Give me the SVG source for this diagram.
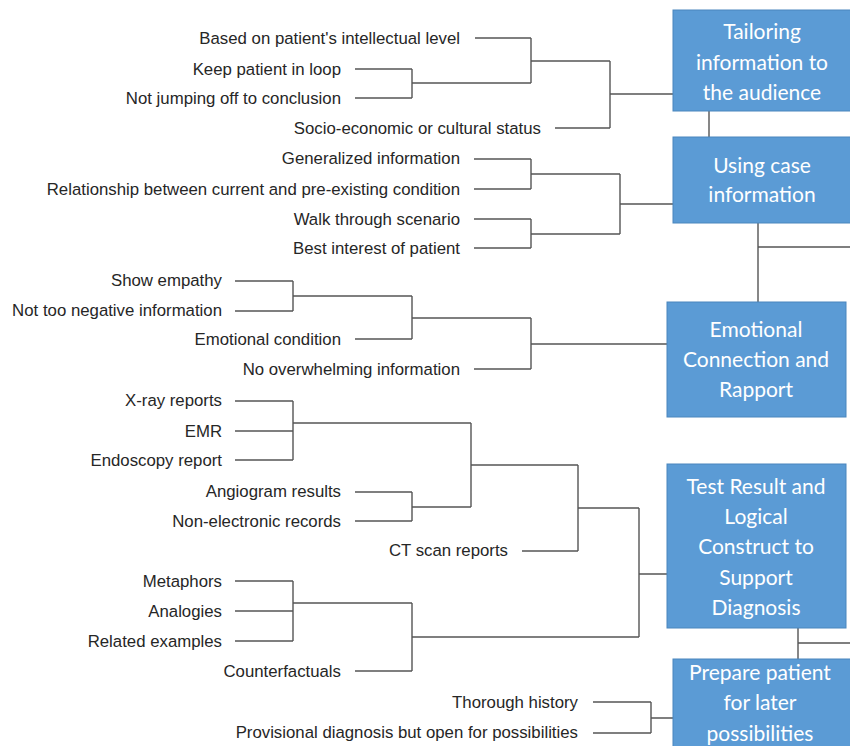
<svg xmlns="http://www.w3.org/2000/svg" width="850" height="746" viewBox="0 0 850 746">
<style>
.bg{fill:#ffffff}
.lbl{font-family:"Liberation Sans",Arial,sans-serif;font-size:16.8px;fill:#262626;text-anchor:end}
.box{fill:#5b9bd5;stroke:#4a86bd;stroke-width:1}
.bt{font-family:Lato,"Open Sans",sans-serif;font-size:21px;fill:#ffffff;text-anchor:middle}
.ln{fill:none;stroke:#555555;stroke-width:1.4}
</style>
<rect class="bg" x="0" y="0" width="850" height="746"/>
<g id="connectors" class="ln">
<path d="M475,38 H531 M355,69 H412 M355,98 H412 M412,69 V98 M412,83 H531 M531,38 V83 M531,61 H610 M555,128 H610 M610,61 V128 M610,94 H673"/>
<path d="M474,159 H531 M474,189 H531 M531,159 V189 M531,174 H620 M474,219 H531 M474,248 H531 M531,219 V248 M531,234 H620 M620,174 V234 M620,204 H673"/>
<path d="M235,281 H293 M235,311 H293 M293,281 V311 M293,296 H412 M355,339 H412 M412,296 V339 M412,318 H531 M474,369 H531 M531,318 V369 M531,344 H667"/>
<path d="M235,401 H293 M235,431 H293 M235,460 H293 M293,401 V460 M293,423 H471 M355,492 H412 M355,521 H412 M412,492 V521 M412,507 H471 M471,423 V507 M471,465 H578 M522,551 H578 M578,465 V551 M578,508 H639 M639,508 V637 M639,574 H667"/>
<path d="M235,581 H293 M235,611 H293 M235,641 H293 M293,581 V641 M293,603 H412 M355,671 H412 M412,603 V671 M412,637 H639"/>
<path d="M593,702 H651 M593,733 H651 M651,702 V733 M651,718 H673"/>
<path d="M709,111 V137 M758,223 V302 M758,247 H850 M798,628 V659 M798,643 H850"/>
</g>
<g id="labels">
<text class="lbl" x="460" y="44">Based on patient's intellectual level</text>
<text class="lbl" x="341" y="75">Keep patient in loop</text>
<text class="lbl" x="341" y="104">Not jumping off to conclusion</text>
<text class="lbl" x="541" y="134">Socio-economic or cultural status</text>
<text class="lbl" x="460" y="164">Generalized information</text>
<text class="lbl" x="460" y="195">Relationship between current and pre-existing condition</text>
<text class="lbl" x="460" y="225">Walk through scenario</text>
<text class="lbl" x="460" y="254">Best interest of patient</text>
<text class="lbl" x="222" y="286">Show empathy</text>
<text class="lbl" x="222" y="316">Not too negative information</text>
<text class="lbl" x="341" y="345">Emotional condition</text>
<text class="lbl" x="460" y="375">No overwhelming information</text>
<text class="lbl" x="222" y="406">X-ray reports</text>
<text class="lbl" x="222" y="437">EMR</text>
<text class="lbl" x="222" y="466">Endoscopy report</text>
<text class="lbl" x="341" y="497">Angiogram results</text>
<text class="lbl" x="341" y="527">Non-electronic records</text>
<text class="lbl" x="508" y="556">CT scan reports</text>
<text class="lbl" x="222" y="587">Metaphors</text>
<text class="lbl" x="222" y="617">Analogies</text>
<text class="lbl" x="222" y="647">Related examples</text>
<text class="lbl" x="341" y="677">Counterfactuals</text>
<text class="lbl" x="578" y="708">Thorough history</text>
<text class="lbl" x="578" y="738">Provisional diagnosis but open for possibilities</text>
</g>
<g id="node-tailoring">
<rect class="box" x="673" y="10" width="180" height="101"/>
<text class="bt" x="762" y="39">Tailoring</text>
<text class="bt" x="762" y="70">information to</text>
<text class="bt" x="762" y="100">the audience</text>
</g>
<g id="node-using-case">
<rect class="box" x="673" y="137" width="180" height="86"/>
<text class="bt" x="762" y="173">Using case</text>
<text class="bt" x="762" y="202">information</text>
</g>
<g id="node-emotional">
<rect class="box" x="667" y="302" width="179" height="115"/>
<text class="bt" x="756" y="337">Emotional</text>
<text class="bt" x="756" y="367">Connection and</text>
<text class="bt" x="756" y="397">Rapport</text>
</g>
<g id="node-test-result">
<rect class="box" x="667" y="464" width="179" height="164"/>
<text class="bt" x="756" y="494">Test Result and</text>
<text class="bt" x="756" y="524">Logical</text>
<text class="bt" x="756" y="554">Construct to</text>
<text class="bt" x="756" y="585">Support</text>
<text class="bt" x="756" y="615">Diagnosis</text>
</g>
<g id="node-prepare">
<rect class="box" x="673" y="659" width="180" height="92"/>
<text class="bt" x="760" y="680">Prepare patient</text>
<text class="bt" x="760" y="710">for later</text>
<text class="bt" x="760" y="741">possibilities</text>
</g>
</svg>
